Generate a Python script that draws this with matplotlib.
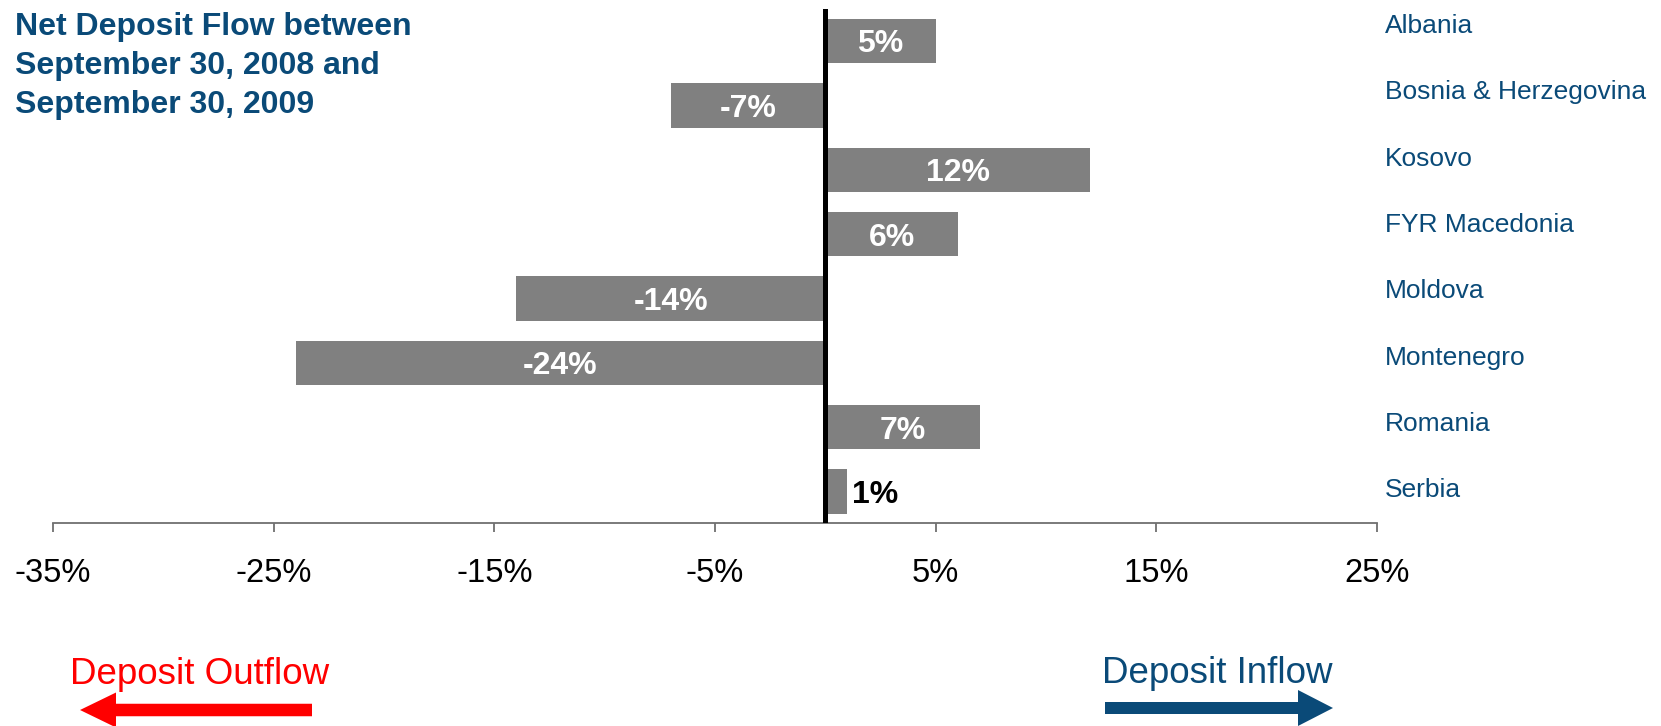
import matplotlib
matplotlib.use("Agg")
import matplotlib.pyplot as plt
from matplotlib.patches import FancyArrow

countries = ["Albania", "Bosnia & Herzegovina", "Kosovo", "FYR Macedonia",
             "Moldova", "Montenegro", "Romania", "Serbia"]
flow = [5, -7, 12, 6, -14, -24, 7, 1]
ticks = [-35, -25, -15, -5, 5, 15, 25]
tick_labels = ["-35%", "-25%", "-15%", "-5%", "5%", "15%", "25%"]
title_lines = ["Net Deposit Flow between", "September 30, 2008 and", "September 30, 2009"]

blue = "#0a4a78"
gray = "#808080"
plt.rcParams["font.family"] = ["Liberation Sans", "DejaVu Sans"]

W, H = 1661, 726
fig = plt.figure(figsize=(W / 100, H / 100), dpi=100)
ax = fig.add_axes([53 / W, 1 - 523 / H, (1377 - 53) / W, (523 - 8.5) / H])

y = list(range(len(countries)))
ax.barh(y, flow, height=0.69, color=gray, zorder=2)
ax.axvline(0, color="black", lw=3.6, zorder=3)

for i, v in enumerate(flow):
    if abs(v) >= 3:
        ax.text(v / 2, i, f"{v}%", color="white", fontsize=23, fontweight="bold",
                ha="center", va="center_baseline", zorder=4)
    else:
        ax.text(v + 0.2, i, f"{v}%", color="black", fontsize=23, fontweight="bold",
                ha="left", va="center_baseline", zorder=4)

ax.set_xlim(-35, 25)
ax.set_ylim(7.49, -0.505)
ax.set_xticks(ticks)
ax.set_xticklabels(tick_labels, fontsize=23.5)
ax.set_yticks([])
ax.tick_params(axis="x", direction="out", length=6.5, width=1.3, color="#707070", pad=19)

for s in ["left", "right", "top"]:
    ax.spines[s].set_visible(False)
ax.spines["bottom"].set_color("#707070")
ax.spines["bottom"].set_linewidth(1.3)

# overlay in pixel units (y down) for labels, title and arrows
ov = fig.add_axes([0, 0, 1, 1])
ov.set_xlim(0, W)
ov.set_ylim(H, 0)
ov.axis("off")

# country names sit on their own row grid at the right
for i, name in enumerate(countries):
    ov.text(1385, 26 + i * 66.3, name, fontsize=19, color=blue,
            ha="left", va="center")

for k, line in enumerate(title_lines):
    ov.text(15, 35 + k * 39, line, fontsize=23, fontweight="bold", color=blue,
            ha="left", va="baseline")

ov.text(70, 684, "Deposit Outflow", fontsize=26.5, color="#ff0000",
        ha="left", va="baseline")
ov.add_patch(FancyArrow(312, 710, -232, 0, width=12.5, head_width=35, head_length=36,
                        length_includes_head=True, color="#ff0000", lw=0))

ov.text(1102, 683, "Deposit Inflow", fontsize=26.5, color=blue,
        ha="left", va="baseline")
ov.add_patch(FancyArrow(1105, 708, 228, 0, width=12, head_width=36, head_length=35,
                        length_includes_head=True, color=blue, lw=0))

fig.savefig("out.png", dpi=100)
